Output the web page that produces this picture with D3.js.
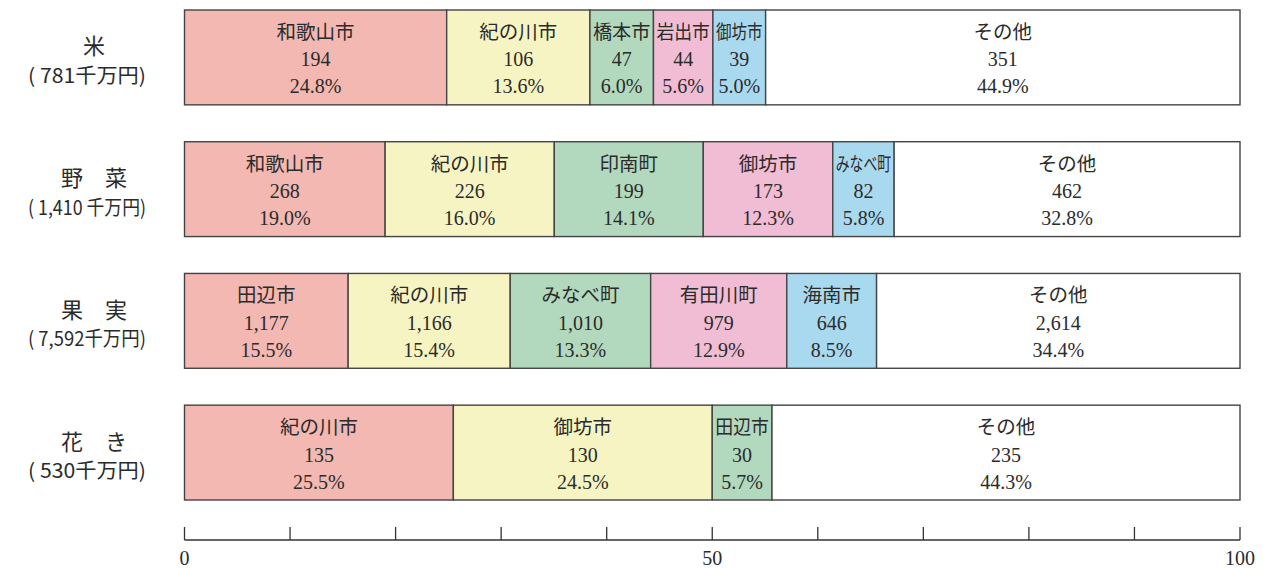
<!DOCTYPE html>
<html lang="ja">
<head>
<meta charset="utf-8">
<script src="https://cdn.jsdelivr.net/npm/d3@7"></script>
<style>
  html, body { margin: 0; padding: 0; background: #fff; }
  svg { display: block; }
</style>
</head>
<body>
<svg id="chart" width="1272" height="568"></svg>
<script>
// 品目ごとの産出額（千万円）と市町村別内訳
const crops = ["米", "野　菜", "果　実", "花　き"];
const cropTotals = ["( 781千万円)", "( 1,410 千万円)", "( 7,592千万円)", "( 530千万円)"];

const riceNames = ["和歌山市", "紀の川市", "橋本市", "岩出市", "御坊市", "その他"];
const riceValues = [194, 106, 47, 44, 39, 351];
const ricePct = ["24.8%", "13.6%", "6.0%", "5.6%", "5.0%", "44.9%"];

const vegNames = ["和歌山市", "紀の川市", "印南町", "御坊市", "みなべ町", "その他"];
const vegValues = [268, 226, 199, 173, 82, 462];
const vegPct = ["19.0%", "16.0%", "14.1%", "12.3%", "5.8%", "32.8%"];

const fruitNames = ["田辺市", "紀の川市", "みなべ町", "有田川町", "海南市", "その他"];
const fruitValues = [1177, 1166, 1010, 979, 646, 2614];
const fruitPct = ["15.5%", "15.4%", "13.3%", "12.9%", "8.5%", "34.4%"];

const flowerNames = ["紀の川市", "御坊市", "田辺市", "その他"];
const flowerValues = [135, 130, 30, 235];
const flowerPct = ["25.5%", "24.5%", "5.7%", "44.3%"];

const axisTicks = [0, 10, 20, 30, 40, 50, 60, 70, 80, 90, 100];
const axisLabels = [0, 50, 100];

const segColors = ["#f2b8b1", "#f6f4c2", "#b2d8bd", "#f0bdd4", "#a9d9ef", "#ffffff"];

const rows = [
  { names: riceNames, values: riceValues, pct: ricePct },
  { names: vegNames, values: vegValues, pct: vegPct },
  { names: fruitNames, values: fruitValues, pct: fruitPct },
  { names: flowerNames, values: flowerValues, pct: flowerPct }
];

const svg = d3.select("#chart");
const serif = "'Liberation Serif', 'DejaVu Serif', 'Noto Sans CJK JP', serif";
const sans = "'Noto Sans CJK JP', 'Noto Sans', sans-serif";
const ink = "#2b2b2b";
const edge = "#444";

const x = d3.scaleLinear().domain([0, 100]).range([184.5, 1240]);
const y = d3.scaleBand().domain(d3.range(crops.length)).range([10, 500]).paddingInner(0.28).paddingOuter(0);

// 帯グラフ本体
rows.forEach((row, i) => {
  const total = d3.sum(row.values);
  let acc = 0;
  const segs = row.values.map((v, j) => {
    const s = { start: acc / total * 100, end: (acc + v) / total * 100, name: row.names[j], value: v, pct: row.pct[j],
                color: j === row.values.length - 1 ? segColors[5] : segColors[j] };
    acc += v;
    return s;
  });

  const g = svg.append("g");
  const top = y(i), h = y.bandwidth(), cy = top + h / 2;

  g.selectAll("rect").data(segs).join("rect")
    .attr("x", d => x(d.start))
    .attr("y", top)
    .attr("width", d => x(d.end) - x(d.start))
    .attr("height", h)
    .attr("fill", d => d.color)
    .attr("stroke", edge)
    .attr("stroke-width", 1.4);

  segs.forEach(d => {
    const cx = (x(d.start) + x(d.end)) / 2;
    const w = x(d.end) - x(d.start);
    const lines = [d.name, d3.format(",")(d.value), d.pct];
    lines.forEach((t, k) => {
      const el = g.append("text")
        .attr("x", cx)
        .attr("y", cy + (k - 1) * 27 + 2)
        .attr("text-anchor", "middle")
        .attr("dominant-baseline", "central")
        .attr("font-family", serif)
        .attr("font-size", k === 0 ? 19.5 : 20)
        .attr("fill", ink)
        .text(t);
      const tw = el.node().getComputedTextLength();
      if (tw > w - 6) {
        el.attr("textLength", w - 6).attr("lengthAdjust", "spacingAndGlyphs");
      }
    });
  });

  // 左側の品目名と総額
  svg.append("text")
    .attr("x", 94)
    .attr("y", cy - 13)
    .attr("text-anchor", "middle")
    .attr("dominant-baseline", "central")
    .attr("font-family", sans)
    .attr("font-size", 22)
    .attr("fill", ink)
    .text(crops[i]);

  svg.append("text")
    .attr("x", 87)
    .attr("y", cy + 17)
    .attr("text-anchor", "middle")
    .attr("dominant-baseline", "central")
    .attr("font-family", sans)
    .attr("font-size", 20)
    .attr("fill", ink)
    .attr("textLength", 118)
    .attr("lengthAdjust", "spacingAndGlyphs")
    .text(cropTotals[i]);
});

// 目盛り
const axisY = 540;
const ag = svg.append("g");
ag.append("line")
  .attr("x1", x(0)).attr("x2", x(100))
  .attr("y1", axisY).attr("y2", axisY)
  .attr("stroke", "#333").attr("stroke-width", 1.3);
ag.selectAll("line.tick").data(axisTicks).join("line")
  .attr("class", "tick")
  .attr("x1", d => x(d)).attr("x2", d => x(d))
  .attr("y1", axisY).attr("y2", axisY - 13)
  .attr("stroke", "#333").attr("stroke-width", 1.3);
ag.selectAll("text").data(axisLabels).join("text")
  .attr("x", d => x(d))
  .attr("y", 558)
  .attr("text-anchor", "middle")
  .attr("dominant-baseline", "central")
  .attr("font-family", serif)
  .attr("font-size", 20)
  .attr("fill", ink)
  .text(d => d);
</script>
</body>
</html>
